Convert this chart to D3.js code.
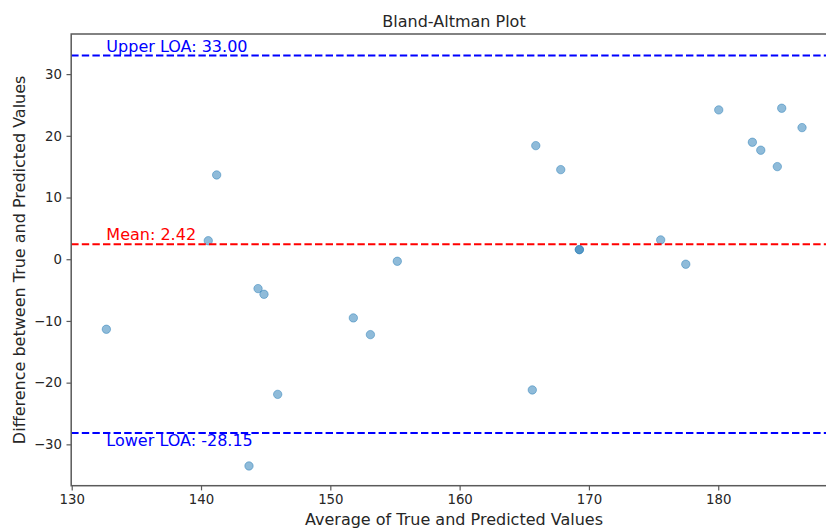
<!DOCTYPE html>
<html>
<head>
<meta charset="utf-8">
<script src="https://cdn.jsdelivr.net/npm/d3@7/dist/d3.min.js"></script>
<style>
  html, body { margin: 0; padding: 0; background: #fff; }
  svg { display: block; font-family: "DejaVu Sans", sans-serif; }
</style>
</head>
<body>
<svg id="chart" width="826" height="529"></svg>
<script>
// Average of true and predicted values (x) and their difference (y)
const averages = [132.68, 140.56, 141.21, 143.71, 144.41, 144.87, 145.93, 151.78, 153.10, 155.18,
                  165.62, 165.89, 167.82, 169.26, 169.26, 175.55, 177.49, 180.04, 182.64, 183.29,
                  184.57, 184.91, 186.48];
const differences = [-11.35, 3.00, 13.66, -33.50, -4.76, -5.68, -21.90, -9.51, -12.22, -0.33,
                     -21.18, 18.41, 14.52, 1.56, 1.56, 3.13, -0.81, 24.20, 18.96, 17.67,
                     15.01, 24.47, 21.33];

// Summary statistics shown as reference lines
const meanDiff = 2.42;
const upperLOA = 33.00;
const lowerLOA = -28.15;

const xTicks = [130, 140, 150, 160, 170, 180];
const yTicks = [-30, -20, -10, 0, 10, 20, 30];

const svg = d3.select("#chart");
const plotLeft = 71.2, plotRight = 836.8, plotTop = 34, plotBottom = 485.7;

const x = d3.scaleLinear().domain([129.96, 189.17]).range([plotLeft, plotRight]);
const y = d3.scaleLinear().domain([-36.7, 36.5]).range([plotBottom, plotTop]);

const textColor = "#262626";
const spineColor = "#5a5a5a";

// Points (semi-transparent fill and edge)
svg.append("g")
  .selectAll("circle")
  .data(averages.map((a, i) => ({ a, d: differences[i] })))
  .join("circle")
  .attr("cx", p => x(p.a))
  .attr("cy", p => y(p.d))
  .attr("r", 4.2)
  .attr("fill", "#1f77b4")
  .attr("fill-opacity", 0.5)
  .attr("stroke", "#1f77b4")
  .attr("stroke-opacity", 0.45)
  .attr("stroke-width", 1);

// Mean and limits of agreement
const refLines = [
  { v: meanDiff, color: "#ff0000", label: "Mean: " + meanDiff.toFixed(2), dy: -3.8 },
  { v: upperLOA, color: "#0000ff", label: "Upper LOA: " + upperLOA.toFixed(2), dy: -3.8 },
  { v: lowerLOA, color: "#0000ff", label: "Lower LOA: " + lowerLOA.toFixed(2), dy: 12.6 }
];
const minAvg = d3.min(averages);

const ref = svg.append("g");
ref.selectAll("line")
  .data(refLines)
  .join("line")
  .attr("x1", plotLeft).attr("x2", plotRight)
  .attr("y1", r => y(r.v)).attr("y2", r => y(r.v))
  .attr("stroke", r => r.color)
  .attr("stroke-width", 2)
  .attr("stroke-dasharray", "7.4,3.2");

ref.selectAll("text")
  .data(refLines)
  .join("text")
  .attr("x", x(minAvg))
  .attr("y", r => y(r.v) + r.dy)
  .attr("fill", r => r.color)
  .attr("font-size", 16)
  .text(r => r.label);

// Axes
const xAxis = d3.axisBottom(x).tickValues(xTicks).tickSize(4.7).tickPadding(4.5).tickFormat(d3.format("d"));
const yAxis = d3.axisLeft(y).tickValues(yTicks).tickSize(4.7).tickPadding(4.5)
  .tickFormat(d => (d < 0 ? "\u2212" + Math.abs(d) : String(d)));

const gx = svg.append("g").attr("transform", `translate(0,${plotBottom})`).call(xAxis);
const gy = svg.append("g").attr("transform", `translate(${plotLeft},0)`).call(yAxis);
[gx, gy].forEach(g => {
  g.select(".domain").remove();
  g.selectAll(".tick line").attr("stroke", spineColor).attr("stroke-width", 1.2);
  g.selectAll(".tick text").attr("fill", textColor).attr("font-size", 13.3)
    .attr("font-family", "DejaVu Sans, sans-serif");
});

// Frame
svg.append("rect")
  .attr("x", plotLeft).attr("y", plotTop)
  .attr("width", plotRight - plotLeft).attr("height", plotBottom - plotTop)
  .attr("fill", "none")
  .attr("stroke", spineColor)
  .attr("stroke-width", 1.5);

// Titles
svg.append("text")
  .attr("x", (plotLeft + plotRight) / 2).attr("y", 26.5)
  .attr("text-anchor", "middle")
  .attr("fill", textColor).attr("font-size", 16)
  .text("Bland-Altman Plot");

svg.append("text")
  .attr("x", (plotLeft + plotRight) / 2).attr("y", 525)
  .attr("text-anchor", "middle")
  .attr("fill", textColor).attr("font-size", 16)
  .text("Average of True and Predicted Values");

svg.append("text")
  .attr("transform", `translate(24.5,${(plotTop + plotBottom) / 2}) rotate(-90)`)
  .attr("text-anchor", "middle")
  .attr("fill", textColor).attr("font-size", 16)
  .text("Difference between True and Predicted Values");
</script>
</body>
</html>
